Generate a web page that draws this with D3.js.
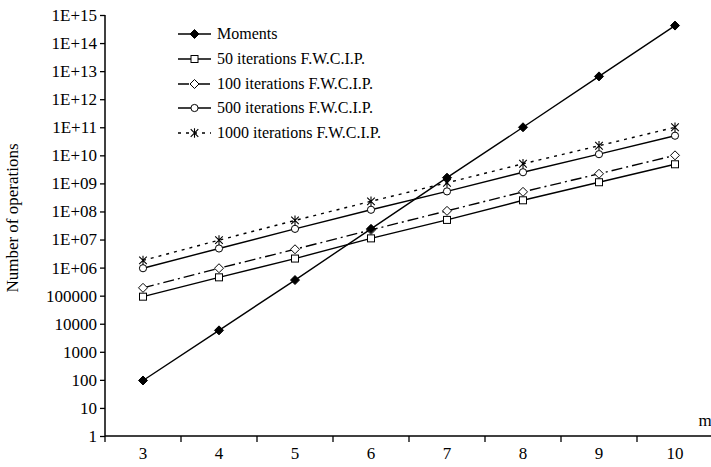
<!DOCTYPE html>
<html><head><meta charset="utf-8">
<script src="https://cdn.jsdelivr.net/npm/d3@7"></script>
<style>
body{margin:0;background:#fff;}
svg text{font-family:"Liberation Serif","Times New Roman",Times,"DejaVu Serif",serif !important;fill:#000;}
</style></head>
<body><svg id="c" width="711" height="467"></svg>
<script>
const categories = ["3","4","5","6","7","8","9","10"];
const moments = [95, 5800, 3.6e5, 2.4e7, 1.6e9, 1e11, 6.5e12, 4.2e14];
const iter50 = [9.2e4, 4.5e5, 2.1e6, 1.1e7, 5e7, 2.5e8, 1.1e9, 4.8e9];
const iter100 = [1.9e5, 9.5e5, 4.5e6, 2.2e7, 1.05e8, 5e8, 2.2e9, 1e10];
const iter500 = [9.5e5, 4.8e6, 2.4e7, 1.15e8, 5.2e8, 2.5e9, 1.1e10, 5e10];
const iter1000 = [1.8e6, 9.5e6, 4.8e7, 2.3e8, 1.05e9, 5e9, 2.2e10, 1e11];
const yTicks = [1,10,100,1000,10000,100000,1e6,1e7,1e8,1e9,1e10,1e11,1e12,1e13,1e14,1e15];
const seriesNames = ["Moments","50 iterations F.W.C.I.P.","100 iterations F.W.C.I.P.","500 iterations F.W.C.I.P.","1000 iterations F.W.C.I.P."];

const series = [
  {name:seriesNames[0], values:moments, dash:null, marker:"fdiamond"},
  {name:seriesNames[1], values:iter50, dash:null, marker:"square"},
  {name:seriesNames[2], values:iter100, dash:"11,4,2,4", marker:"diamond"},
  {name:seriesNames[3], values:iter500, dash:null, marker:"circle"},
  {name:seriesNames[4], values:iter1000, dash:"3,5", marker:"star"}
];

const svg = d3.select("#c");
const L=105, R=713, T=15, B=436;
const x = d3.scaleBand().domain(categories).range([L,R]);
const y = d3.scaleLog().domain([1,1e15]).range([B,T]);
const fmt = v => v >= 1e6 ? "1E+" + String(Math.round(Math.log10(v))).padStart(2,"0") : String(v);
const FS = "17px";

// Y axis
const ya = svg.append("g").attr("transform",`translate(${L},0)`)
  .call(d3.axisLeft(y).tickValues(yTicks).tickFormat(fmt).tickSize(5).tickPadding(3));
ya.select(".domain").attr("stroke","#000").attr("stroke-width",1.5).attr("d",`M0,${T}V${B}`);
ya.selectAll(".tick line").attr("stroke","#000").attr("stroke-width",1.3);
ya.selectAll(".tick text").style("font-size",FS);

// X axis
const xa = svg.append("g").attr("transform",`translate(0,${B})`)
  .call(d3.axisBottom(x).tickSize(0).tickPadding(11));
xa.select(".domain").attr("stroke","#000").attr("stroke-width",1.5).attr("d",`M${L},0H${R}`);
xa.selectAll(".tick text").style("font-size",FS);
xa.selectAll(".bt").data(categories.concat(["end"])).enter().append("line")
  .attr("x1",(d,i)=> i<categories.length ? x(d) : x(categories[categories.length-1])+x.bandwidth())
  .attr("x2",(d,i)=> i<categories.length ? x(d) : x(categories[categories.length-1])+x.bandwidth())
  .attr("y1",0).attr("y2",6).attr("stroke","#000").attr("stroke-width",1.3);

// axis titles
svg.append("text").attr("transform","translate(18,218) rotate(-90)").attr("text-anchor","middle")
  .style("font-size",FS).text("Number of operations");
svg.append("text").attr("x",705).attr("y",426).attr("text-anchor","middle").style("font-size",FS).text("m");

function drawMarker(g, type, cx, cy){
  if(type==="fdiamond"){
    g.append("path").attr("d",`M${cx},${cy-4.5}L${cx+4.5},${cy}L${cx},${cy+4.5}L${cx-4.5},${cy}Z`).attr("fill","#000").attr("stroke","#000");
  } else if(type==="square"){
    g.append("rect").attr("x",cx-3.5).attr("y",cy-3.5).attr("width",7).attr("height",7).attr("fill","#fff").attr("stroke","#000").attr("stroke-width",1);
  } else if(type==="diamond"){
    g.append("path").attr("d",`M${cx},${cy-4.5}L${cx+4.5},${cy}L${cx},${cy+4.5}L${cx-4.5},${cy}Z`).attr("fill","#fff").attr("stroke","#000").attr("stroke-width",1);
  } else if(type==="circle"){
    g.append("circle").attr("cx",cx).attr("cy",cy).attr("r",3.6).attr("fill","#fff").attr("stroke","#000").attr("stroke-width",1);
  } else if(type==="star"){
    const s=3.8;
    g.append("path").attr("d",`M${cx-s},${cy-s}L${cx+s},${cy+s}M${cx-s},${cy+s}L${cx+s},${cy-s}M${cx},${cy-s-1}V${cy+s+1}`)
      .attr("stroke","#000").attr("stroke-width",1.1).attr("fill","none");
  }
}

const cx = c => x(c) + x.bandwidth()/2;
const line = d3.line().x((d,i)=>cx(categories[i])).y(d=>y(d));

series.slice().reverse().forEach(s=>{
  const g = svg.append("g");
  g.append("path").datum(s.values).attr("d",line).attr("fill","none").attr("stroke","#000")
    .attr("stroke-width",1.4).attr("stroke-dasharray",s.dash);
  s.values.forEach((v,i)=>drawMarker(g,s.marker,cx(categories[i]),y(v)));
});

// legend
const legY = [34,59,84,108,133];
series.forEach((s,i)=>{
  const g = svg.append("g");
  const yy = legY[i];
  g.append("line").attr("x1",178).attr("x2",211).attr("y1",yy).attr("y2",yy).attr("stroke","#000")
    .attr("stroke-width",1.4).attr("stroke-dasharray",s.dash);
  drawMarker(g,s.marker,194.5,yy);
  g.append("text").attr("x",217).attr("y",yy+5).style("font-size","16px").text(s.name);
});
</script></body></html>
